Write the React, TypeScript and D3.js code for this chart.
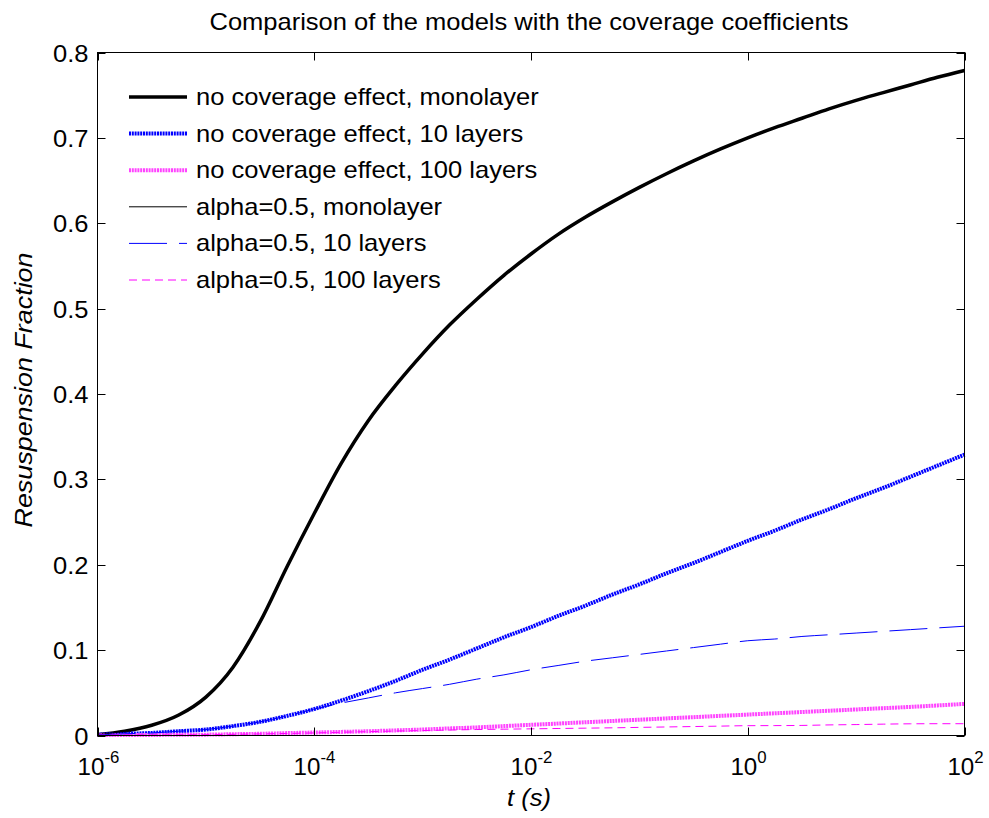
import React from "react";
import * as d3 from "d3";

// exponents of t (s): t = 10^exp
const EXPONENTS = [
  -6, -5.75, -5.5, -5.25, -5, -4.75, -4.5, -4.25, -4, -3.75, -3.5, -3.25, -3,
  -2.75, -2.5, -2.25, -2, -1.75, -1.5, -1.25, -1, -0.75, -0.5, -0.25, 0, 0.25,
  0.5, 0.75, 1, 1.25, 1.5, 1.75, 2,
];

const noCovMono = [
  0.001, 0.005, 0.012, 0.024, 0.045, 0.08, 0.133, 0.198, 0.26, 0.319, 0.369,
  0.41, 0.447, 0.481, 0.511, 0.539, 0.564, 0.587, 0.607, 0.625, 0.642, 0.658,
  0.673, 0.687, 0.7, 0.712, 0.723, 0.734, 0.744, 0.753, 0.762, 0.771, 0.779,
];
const noCov10 = [
  0.001, 0.002, 0.003, 0.005, 0.007, 0.011, 0.016, 0.023, 0.031, 0.041, 0.052,
  0.064, 0.077, 0.089, 0.102, 0.115, 0.127, 0.14, 0.152, 0.165, 0.177, 0.19,
  0.202, 0.215, 0.228, 0.24, 0.253, 0.265, 0.278, 0.29, 0.303, 0.316, 0.329,
];
const noCov100 = [
  0.0005, 0.0006, 0.0007, 0.0008, 0.001, 0.0015, 0.002, 0.0028, 0.0035, 0.0042,
  0.005, 0.006, 0.007, 0.0083, 0.0095, 0.011, 0.0125, 0.014, 0.0155, 0.017,
  0.0185, 0.02, 0.0215, 0.023, 0.0245, 0.026, 0.0275, 0.029, 0.0305, 0.032,
  0.0335, 0.0352, 0.037,
];
const alphaMono = [
  0.001, 0.005, 0.012, 0.024, 0.045, 0.08, 0.133, 0.198, 0.26, 0.319, 0.369,
  0.41, 0.447, 0.481, 0.511, 0.539, 0.564, 0.587, 0.607, 0.625, 0.642, 0.658,
  0.673, 0.687, 0.7, 0.712, 0.723, 0.734, 0.744, 0.753, 0.762, 0.771, 0.779,
];
const alpha10 = [
  0.001, 0.002, 0.003, 0.005, 0.007, 0.011, 0.016, 0.023, 0.031, 0.038, 0.044,
  0.05, 0.055, 0.06, 0.066, 0.071, 0.077, 0.082, 0.087, 0.091, 0.095, 0.099,
  0.103, 0.107, 0.111, 0.113, 0.116, 0.118, 0.12, 0.122, 0.124, 0.126, 0.128,
];
const alpha100 = [
  0.0005, 0.0006, 0.0007, 0.0008, 0.001, 0.0014, 0.0018, 0.0024, 0.003, 0.0038,
  0.0045, 0.0052, 0.0058, 0.0064, 0.007, 0.0074, 0.0078, 0.0082, 0.0086, 0.009,
  0.0095, 0.01, 0.0105, 0.011, 0.0115, 0.0116, 0.0118, 0.0124, 0.0128, 0.0133,
  0.0137, 0.0138, 0.0138,
];

const SERIES_NAMES = [
  "no coverage effect, monolayer",
  "no coverage effect, 10 layers",
  "no coverage effect, 100 layers",
  "alpha=0.5, monolayer",
  "alpha=0.5, 10 layers",
  "alpha=0.5, 100 layers",
];
const SERIES_VALUES = [noCovMono, noCov10, noCov100, alphaMono, alpha10, alpha100];

const X_TICK_EXPS = [-6, -4, -2, 0, 2];
const Y_TICKS = [0, 0.1, 0.2, 0.3, 0.4, 0.5, 0.6, 0.7, 0.8];

const TITLE = "Comparison of the models with the coverage coefficients";
const X_LABEL = "t (s)";
const Y_LABEL = "Resuspension Fraction";

const STYLES = [
  { stroke: "#000000", width: 3.5, dash: "none" },
  { stroke: "#0000ff", width: 4, dash: "2 0.8" },
  { stroke: "#ff44ff", width: 4, dash: "2 0.8" },
  { stroke: "#000000", width: 1, dash: "none" },
  { stroke: "#0000ff", width: 1, dash: "38 12" },
  { stroke: "#ff00ff", width: 1, dash: "8 5" },
];

const FONT = "'Liberation Sans', Arial, Helvetica, sans-serif";
const SX = 1.11;

export default function App() {
  const left = 97.5, right = 964.5, top = 52.5, bottom = 735.5;
  const x = d3.scaleLog().domain([1e-6, 1e2]).range([left, right]);
  const y = d3.scaleLinear().domain([0, 0.8]).range([bottom, top]);

  const line = d3
    .line<number>()
    .x((_, i) => x(Math.pow(10, EXPONENTS[i])))
    .y((d) => y(d))
    .curve(d3.curveMonotoneX);

  const tickLen = 8;

  return (
    <svg
      width={989}
      height={818}
      style={{ position: "absolute", left: 0, top: 0, background: "#fff" }}
      fontFamily={FONT}
    >
      <rect x={0} y={0} width={989} height={818} fill="#fff" />
      {/* title */}
      <text
        transform={`translate(${(left + right) / 2 - 2},30) scale(${SX},1)`}
        textAnchor="middle"
        fontSize={23}
        fill="#000"
      >
        {TITLE}
      </text>

      {/* series */}
      {SERIES_VALUES.map((vals, i) => (
        <path
          key={i}
          d={line(vals) || ""}
          fill="none"
          stroke={STYLES[i].stroke}
          strokeWidth={STYLES[i].width}
          strokeDasharray={STYLES[i].dash}
          strokeLinejoin="round"
        />
      ))}

      {/* axes box */}
      <rect
        x={left}
        y={top}
        width={right - left}
        height={bottom - top}
        fill="none"
        stroke="#000"
        strokeWidth={1}
      />
      {X_TICK_EXPS.map((e) => {
        const px = Math.round(x(Math.pow(10, e))) + 0.5;
        return (
          <g key={"xt" + e}>
            <line x1={px} x2={px} y1={bottom} y2={bottom - tickLen} stroke="#000" />
            <line x1={px} x2={px} y1={top} y2={top + tickLen} stroke="#000" />
            <text
              transform={`translate(${px},775) scale(1.05,1)`}
              textAnchor="middle"
              fontSize={23}
              fill="#000"
            >
              10
              <tspan fontSize={16} dy={-12}>
                {String(e)}
              </tspan>
            </text>
          </g>
        );
      })}
      {Y_TICKS.map((v) => {
        const py = Math.round(y(v)) + 0.5;
        return (
          <g key={"yt" + v}>
            <line x1={left} x2={left + tickLen} y1={py} y2={py} stroke="#000" />
            <line x1={right} x2={right - tickLen} y1={py} y2={py} stroke="#000" />
            <text
              transform={`translate(88.5,${py + 8}) scale(${SX},1)`}
              textAnchor="end"
              fontSize={23}
              fill="#000"
            >
              {v === 0 ? "0" : String(v)}
            </text>
          </g>
        );
      })}

      {/* axis labels */}
      <text
        transform={`translate(529,806) scale(${SX},1)`}
        textAnchor="middle"
        fontSize={23}
        fontStyle="italic"
        fill="#000"
      >
        {X_LABEL}
      </text>
      <text
        transform={`translate(32,390) rotate(-90) scale(1.17,1)`}
        textAnchor="middle"
        fontSize={23}
        fontStyle="italic"
        fill="#000"
      >
        {Y_LABEL}
      </text>

      {/* legend */}
      {SERIES_NAMES.map((name, i) => {
        const cy = 97 + i * 36.6;
        return (
          <g key={"lg" + i}>
            <line
              x1={129}
              x2={187}
              y1={cy}
              y2={cy}
              stroke={STYLES[i].stroke}
              strokeWidth={STYLES[i].width}
              strokeDasharray={STYLES[i].dash}
            />
            <text
              transform={`translate(196,${cy + 8}) scale(${SX},1)`}
              fontSize={23}
              fill="#000"
            >
              {name}
            </text>
          </g>
        );
      })}
    </svg>
  );
}
